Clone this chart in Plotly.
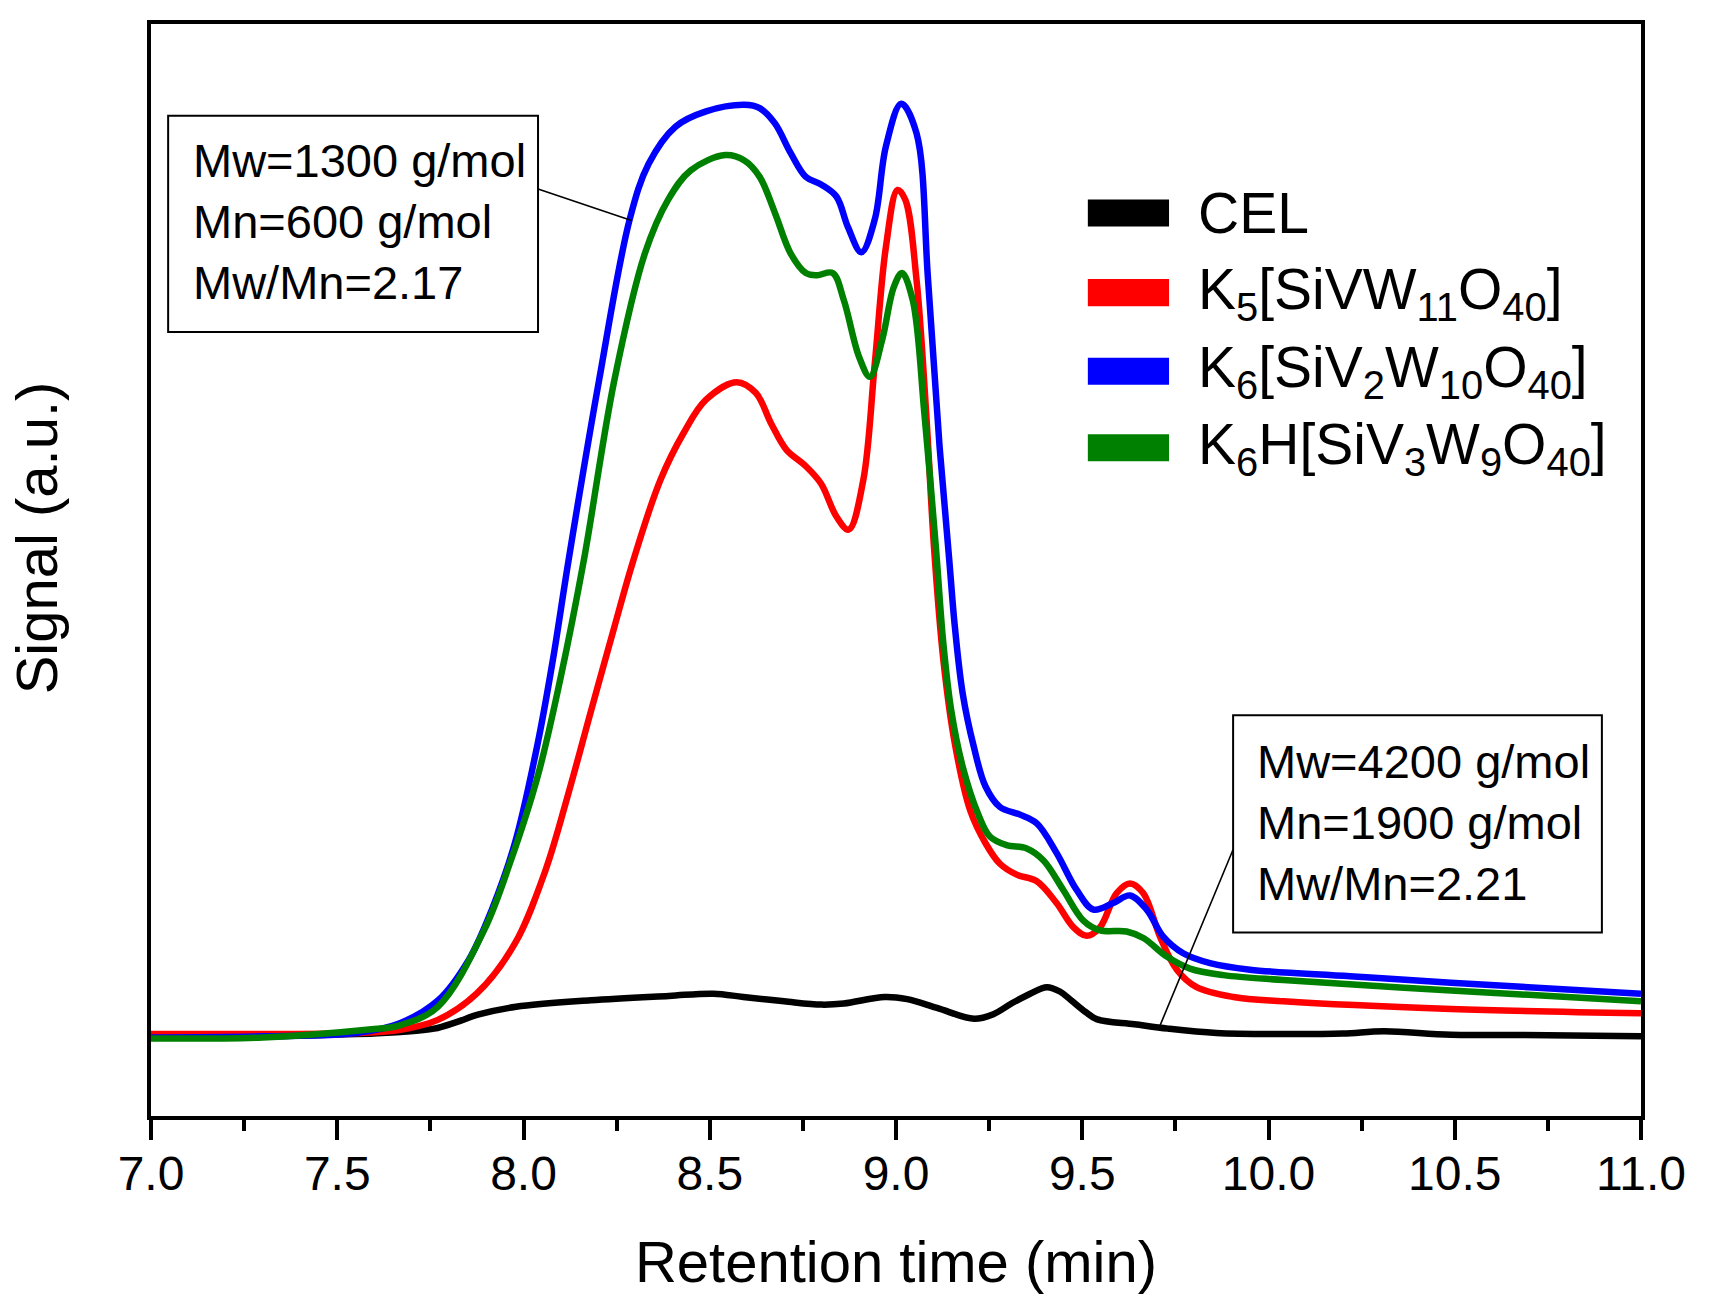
import plotly.graph_objects as go

FONT = "Liberation Sans, Arial, sans-serif"

# ---- data (retention time in min, signal in a.u.) ----
cel_t = [7.00, 7.30, 7.55, 7.67, 7.76, 7.82, 7.88, 7.98, 8.18, 8.39, 8.51, 8.59, 8.70, 8.80, 8.86,
         8.97, 9.03, 9.11, 9.21, 9.26, 9.31, 9.36, 9.405, 9.44, 9.47, 9.51, 9.54, 9.64, 9.73, 9.86,
         10.04, 10.20, 10.31, 10.49, 10.75, 11.00]
cel_v = [7.2, 7.3, 7.5, 7.7, 8.0, 8.6, 9.3, 10.0, 10.6, 11.0, 11.2, 10.9, 10.5, 10.2, 10.3,
         10.9, 10.7, 9.9, 8.9, 9.3, 10.3, 11.2, 11.8, 11.4, 10.6, 9.5, 8.85, 8.4, 8.0, 7.6,
         7.5, 7.55, 7.75, 7.45, 7.4, 7.3]

k5_t = [7.00, 7.30, 7.55, 7.67, 7.77, 7.874, 7.977, 8.059, 8.121, 8.182, 8.244, 8.295, 8.367, 8.429,
        8.490, 8.573, 8.624, 8.665, 8.706, 8.758, 8.799, 8.840, 8.873, 8.912, 8.943, 8.973, 9.004,
        9.025, 9.055, 9.081, 9.102, 9.127, 9.158, 9.199, 9.240, 9.279, 9.324, 9.378, 9.431, 9.476,
        9.512, 9.548, 9.592, 9.628, 9.664, 9.709, 9.754, 9.807, 9.906, 10.04, 10.49, 11.00]
k5_v = [7.5, 7.5, 7.6, 7.9, 8.8, 11.2, 15.8, 22.5, 29.6, 37.2, 44.8, 50.9, 58.2, 62.5,
        65.6, 67.2, 66.2, 63.4, 61.0, 59.5, 57.9, 54.9, 53.7, 58.2, 68.9, 79.6, 84.8,
        83.9, 76.6, 64.4, 52.1, 41.8, 34.1, 28.0, 25.0, 23.1, 22.1, 21.5, 19.5, 17.3,
        16.5, 17.3, 20.4, 21.3, 20.4, 16.4, 13.4, 11.8, 10.9, 10.5, 9.8, 9.4]

k6_t = [7.00, 7.30, 7.55, 7.668, 7.771, 7.853, 7.915, 7.977, 8.038, 8.079, 8.121, 8.203, 8.285,
        8.336, 8.408, 8.490, 8.593, 8.634, 8.675, 8.717, 8.758, 8.799, 8.840, 8.871, 8.907, 8.943,
        8.973, 9.014, 9.055, 9.086, 9.117, 9.143, 9.158, 9.179, 9.209, 9.240, 9.279, 9.333, 9.378,
        9.431, 9.485, 9.530, 9.583, 9.628, 9.673, 9.718, 9.771, 9.843, 9.950, 10.219, 10.49, 11.00]
k6_v = [7.2, 7.3, 7.6, 8.5, 10.6, 14.3, 18.9, 25.0, 34.1, 41.8, 50.9, 67.4, 82.1,
        87.2, 90.6, 92.0, 92.6, 92.3, 90.9, 88.2, 86.0, 85.3, 84.2, 81.4, 79.1, 82.1,
        88.8, 92.7, 90.0, 76.6, 61.3, 50.9, 44.8, 38.7, 33.8, 30.2, 28.3, 27.6, 26.8,
        24.1, 20.7, 18.9, 19.5, 20.2, 18.9, 16.4, 14.9, 14.0, 13.4, 12.8, 12.2, 11.2]

k6h_t = [7.00, 7.30, 7.579, 7.668, 7.77, 7.894, 7.966, 8.038, 8.100, 8.162, 8.244, 8.326, 8.388,
         8.449, 8.542, 8.593, 8.634, 8.675, 8.717, 8.758, 8.788, 8.830, 8.860, 8.901, 8.930, 8.963,
         8.994, 9.016, 9.045, 9.076, 9.107, 9.127, 9.148, 9.179, 9.220, 9.252, 9.297, 9.351, 9.396,
         9.449, 9.503, 9.548, 9.619, 9.664, 9.727, 9.789, 9.879, 10.04, 10.49, 11.00]
k6h_v = [7.1, 7.2, 7.9, 8.3, 10.0, 17.0, 23.4, 31.1, 40.2, 50.9, 67.4, 79.0, 83.9,
         86.6, 88.0, 87.5, 86.0, 82.7, 79.0, 77.2, 77.0, 77.2, 74.7, 69.5, 67.7, 71.1,
         75.9, 77.2, 74.7, 64.4, 52.1, 43.3, 37.2, 32.0, 27.7, 25.6, 24.8, 24.5, 23.4,
         20.7, 17.9, 17.0, 16.9, 16.3, 14.6, 13.5, 12.9, 12.45, 11.5, 10.5]

series_names = ["CEL",
                "K<sub>5</sub>[SiVW<sub>11</sub>O<sub>40</sub>]",
                "K<sub>6</sub>[SiV<sub>2</sub>W<sub>10</sub>O<sub>40</sub>]",
                "K<sub>6</sub>H[SiV<sub>3</sub>W<sub>9</sub>O<sub>40</sub>]"]
series_colors = ["#000000", "#ff0000", "#0000ff", "#008000"]
series_t = [cel_t, k5_t, k6_t, k6h_t]
series_v = [cel_v, k5_v, k6_v, k6h_v]

x_ticks = [7.0, 7.5, 8.0, 8.5, 9.0, 9.5, 10.0, 10.5, 11.0]

box1_text = "Mw=1300 g/mol<br>Mn=600 g/mol<br>Mw/Mn=2.17"
box2_text = "Mw=4200 g/mol<br>Mn=1900 g/mol<br>Mw/Mn=2.21"

fig = go.Figure()
for name, col, t, v in zip(series_names, series_colors, series_t, series_v):
    fig.add_trace(go.Scatter(x=t, y=v, mode="lines", name=name,
                             line=dict(color=col, width=6.5, shape="spline", smoothing=1.0),
                             showlegend=False, hoverinfo="skip"))

shapes = []
annotations = []

# annotation boxes and leader lines
shapes.append(dict(type="rect", xref="x", yref="y", x0=7.046, x1=8.039, y0=71.8, y1=91.6,
                   line=dict(color="black", width=2)))
shapes.append(dict(type="line", xref="x", yref="y", x0=8.039, y0=84.9, x1=8.29, y1=82.0,
                   line=dict(color="black", width=1.6)))
annotations.append(dict(x=7.107, y=81.9, xref="x", yref="y", text=box1_text, showarrow=False,
                        xanchor="left", yanchor="middle", align="left",
                        font=dict(family=FONT, size=47, color="black")))

shapes.append(dict(type="rect", xref="x", yref="y", x0=9.905, x1=10.895, y0=16.8, y1=36.7,
                   line=dict(color="black", width=2)))
shapes.append(dict(type="line", xref="x", yref="y", x0=9.905, y0=24.4, x1=9.709, y1=8.3,
                   line=dict(color="black", width=1.6)))
annotations.append(dict(x=9.964, y=26.9, xref="x", yref="y", text=box2_text, showarrow=False,
                        xanchor="left", yanchor="middle", align="left",
                        font=dict(family=FONT, size=47, color="black")))

# custom legend
leg_y = [82.7, 75.4, 68.2, 61.2]
for name, col, yc in zip(series_names, series_colors, leg_y):
    shapes.append(dict(type="rect", xref="x", yref="y", x0=9.515, x1=9.733,
                       y0=yc - 1.24, y1=yc + 1.24, fillcolor=col, line=dict(width=0)))
    annotations.append(dict(x=9.805, y=yc, xref="x", yref="y", text=name, showarrow=False,
                            xanchor="left", yanchor="middle", align="left",
                            font=dict(family=FONT, size=57, color="black")))

# y-axis title (placed slightly above the axis centre, as in the original)
annotations.append(dict(x=0, y=0.529, xref="paper", yref="paper", xshift=-115,
                        text="Signal (a.u.)", textangle=-90, showarrow=False,
                        xanchor="center", yanchor="middle",
                        font=dict(family=FONT, size=58, color="black")))

fig.update_layout(
    width=1713, height=1306,
    margin=dict(l=151, r=72, t=24, b=190),
    paper_bgcolor="white", plot_bgcolor="white",
    font=dict(family=FONT, color="black"),
    shapes=shapes, annotations=annotations,
    showlegend=False,
    xaxis=dict(range=[7, 11], tickvals=x_ticks, ticktext=[f"{v:.1f}" for v in x_ticks],
               ticks="outside", ticklen=20, tickwidth=4, tickcolor="black",
               ticklabelstandoff=-8,
               minor=dict(ticks="outside", ticklen=11, tickwidth=4, tickcolor="black",
                          dtick=0.25, tick0=7.0, showgrid=False),
               showline=True, linewidth=4, linecolor="black", mirror=True,
               showgrid=False, zeroline=False,
               tickfont=dict(family=FONT, size=48, color="black"),
               title=dict(text="Retention time (min)", font=dict(family=FONT, size=58, color="black"),
                          standoff=44)),
    yaxis=dict(range=[0, 100], showticklabels=False, ticks="",
               showline=True, linewidth=4, linecolor="black", mirror=True,
               showgrid=False, zeroline=False),
)

fig.write_html("out.html", config={"displayModeBar": False},
               post_script="document.body.style.margin='0';")
